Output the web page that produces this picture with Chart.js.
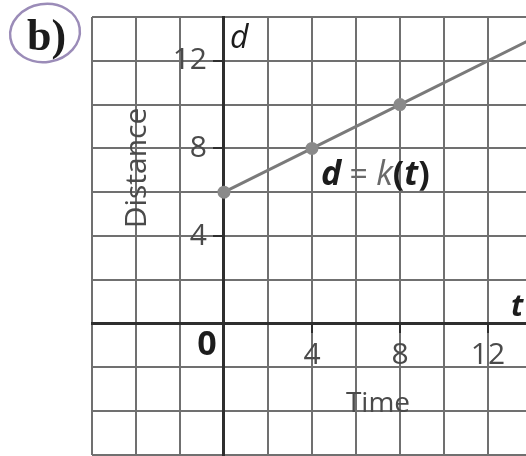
<!DOCTYPE html>
<html>
<head>
<meta charset="utf-8">
<script src="https://cdn.jsdelivr.net/npm/chart.js@4"></script>
<style>
  html, body { margin: 0; padding: 0; background: #fff; overflow: hidden; }
  #wrap { width: 526px; height: 456px; }
</style>
</head>
<body>
<div id="wrap"><canvas id="distanceChart"></canvas></div>
<script>
// values
const timeValues = [0, 4, 8, 14];
const distanceValues = [6, 8, 10, 13];
const markedPoints = [true, true, true, false];
const xTickLabels = [4, 8, 12];
const yTickLabels = [4, 8, 12];

const gridGray = "#707070";
const axisDark = "#2e2e2e";
const labelGray = "#4a4a4a";

// extra texts: y tick numbers, panel letter, axis names, origin, function name
const annotations = {
    id: "annotations",
    afterDraw(chart) {
        const c = chart.ctx;
        const x = chart.scales.x;
        const y = chart.scales.y;
        const x0 = x.getPixelForValue(0);
        const y0 = y.getPixelForValue(0);
        c.save();

        // y tick numbers sit left of the centred axis
        c.fillStyle = labelGray;
        c.font = "30px 'Open Sans'";
        c.textAlign = "right";
        c.textBaseline = "middle";
        yTickLabels.forEach(v => c.fillText(String(v), x0 - 17, y.getPixelForValue(v)));

        // b) with purple circle
        c.strokeStyle = "#9b8cb8";
        c.lineWidth = 2.5;
        c.beginPath();
        c.ellipse(45, 33, 35, 29, -0.15, 0, Math.PI * 2);
        c.stroke();
        c.fillStyle = "#1c1c1c";
        c.font = "bold 44px 'Liberation Serif'";
        c.textAlign = "left";
        c.textBaseline = "alphabetic";
        c.fillText("b)", 27, 50);

        // axis letters
        c.font = "italic 32px 'Open Sans'";
        c.fillText("d", x0 + 6, 48);
        c.font = "bold italic 30px 'Open Sans'";
        c.fillText("t", 511, y0 - 8);

        // origin
        c.font = "bold 34px 'Open Sans'";
        c.textAlign = "center";
        c.textBaseline = "middle";
        c.fillText("0", x0 - 17, y0 + 22);

        // axis names
        c.fillStyle = labelGray;
        c.font = "28px 'Open Sans'";
        c.fillText("Time", 378, 404);
        c.save();
        c.translate(137, 168);
        c.rotate(-Math.PI / 2);
        c.font = "30px 'Open Sans'";
        c.fillText("Distance", 0, 0);
        c.restore();

        // d = k(t)
        c.textAlign = "left";
        c.textBaseline = "alphabetic";
        let px = 321;
        const py = 185;
        const parts = [
            ["d", "bold italic 34px 'Open Sans'", "#1c1c1c"],
            [" = ", "32px 'Open Sans'", "#6a6a6a"],
            ["k", "italic 34px 'Open Sans'", "#6a6a6a"],
            ["(", "bold 34px 'Open Sans'", "#1c1c1c"],
            ["t", "bold italic 34px 'Open Sans'", "#1c1c1c"],
            [")", "bold 34px 'Open Sans'", "#1c1c1c"]
        ];
        parts.forEach(p => {
            c.font = p[1];
            c.fillStyle = p[2];
            c.fillText(p[0], px, py);
            px += c.measureText(p[0]).width;
        });

        c.restore();
    }
};

const wrap = document.getElementById("wrap");
const ctx = document.getElementById("distanceChart").getContext("2d");

const chart = new Chart(ctx, {
    type: "line",
    data: {
        datasets: [{
            data: timeValues.map((t, i) => ({ x: t, y: distanceValues[i] })),
            borderColor: "#7a7a7a",
            borderWidth: 3,
            pointRadius: markedPoints.map(m => m ? 5 : 0),
            pointBackgroundColor: "#8a8a8a",
            pointBorderColor: "#8a8a8a",
            tension: 0
        }]
    },
    options: {
        responsive: true,
        maintainAspectRatio: false,
        animation: false,
        events: [],
        layout: { padding: { left: 92, top: 17, right: 0, bottom: 0 } },
        plugins: { legend: { display: false }, tooltip: { enabled: false } },
        scales: {
            x: {
                type: "linear",
                position: { y: 0 },
                min: -6,
                max: 13.73,
                border: { display: true, color: axisDark, width: 3 },
                grid: {
                    color: gridGray,
                    lineWidth: 2,
                    tickLength: 8,
                    tickColor: c => xTickLabels.includes(c.tick.value) ? axisDark : "rgba(0,0,0,0)",
                    tickWidth: 2
                },
                ticks: {
                    stepSize: 2,
                    includeBounds: false,
                    padding: 6,
                    color: labelGray,
                    font: { family: "Open Sans", size: 30 },
                    maxRotation: 0,
                    autoSkip: false,
                    callback: v => xTickLabels.includes(v) ? String(v) : ""
                }
            },
            y: {
                type: "linear",
                position: { x: 0 },
                min: -6,
                max: 14,
                border: { display: true, color: axisDark, width: 3 },
                grid: {
                    color: gridGray,
                    lineWidth: 2,
                    tickLength: 9,
                    tickColor: c => yTickLabels.includes(c.tick.value) ? axisDark : "rgba(0,0,0,0)",
                    tickWidth: 2
                },
                ticks: {
                    stepSize: 2,
                    includeBounds: false,
                    font: { size: 2 },
                    callback: () => ""
                }
            }
        }
    },
    plugins: [annotations]
});

// the centred axes still keep a few pixels free on the right and bottom:
// grow the canvas past the window so the plot area reaches the edges
for (let i = 0; i < 3; i++) {
    const a = chart.chartArea;
    const w = Math.round(chart.width + (526 - a.right));
    const h = Math.round(chart.height + (455 - a.bottom));
    wrap.style.width = w + "px";
    wrap.style.height = h + "px";
    chart.resize(w, h);
}
</script>
</body>
</html>
